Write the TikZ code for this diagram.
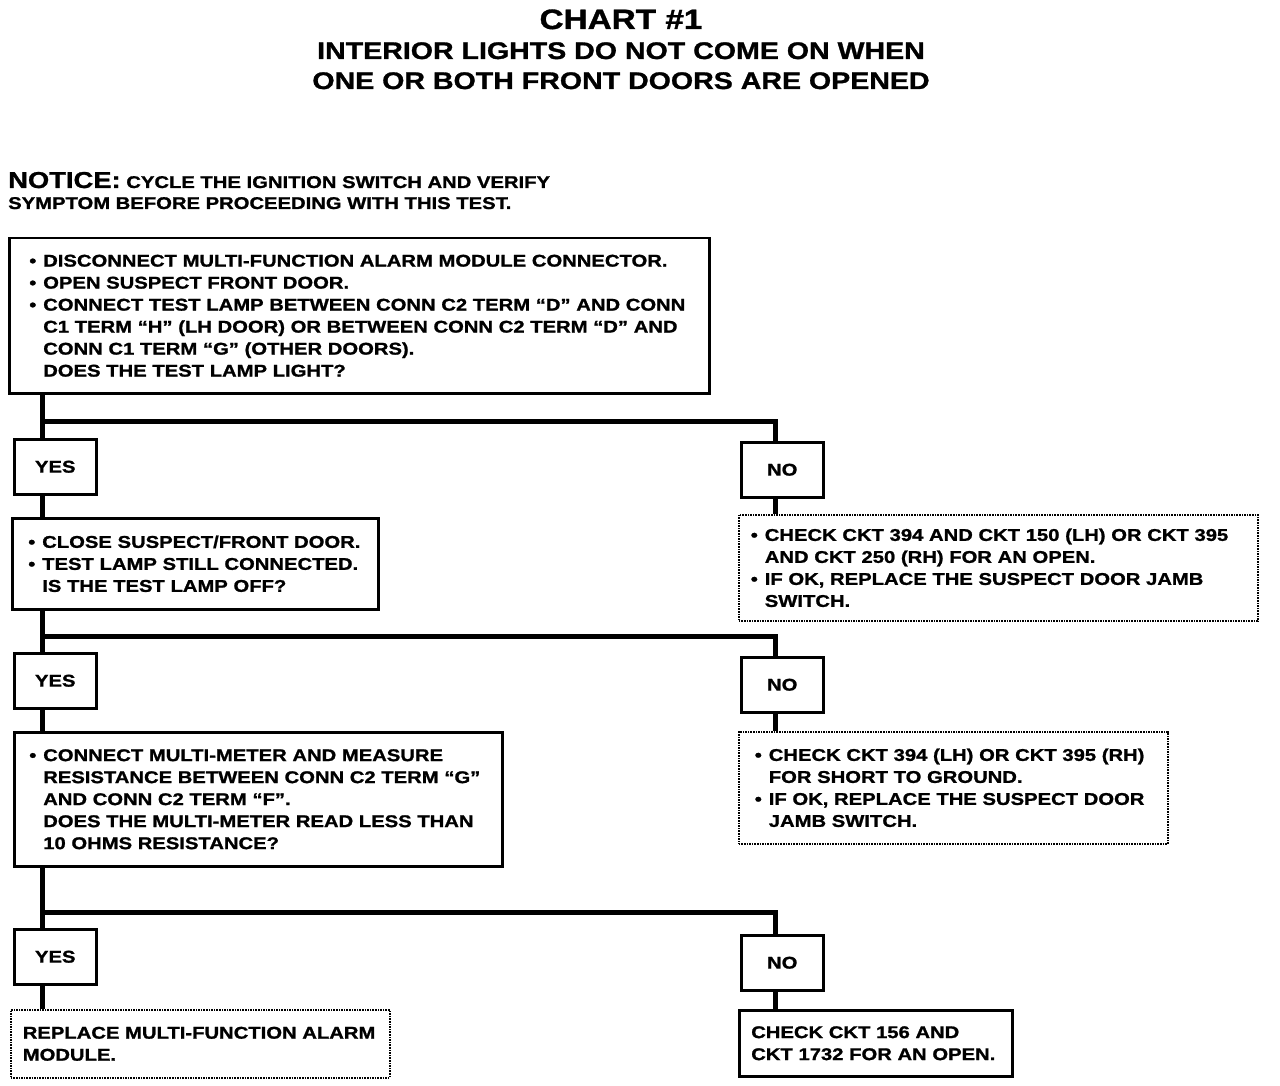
\documentclass[tikz,border=0pt]{standalone}
\usepackage{fontspec}
\setmainfont{Liberation Sans}[FakeStretch=1.19, BoldFeatures={FakeBold=1.2}]
\newcommand\bxfont{\fontsize{17}{22}\selectfont\bfseries}
\newcommand\bu{\makebox[14pt][l]{\textbullet}}
\newcommand\ind{\hspace*{14pt}}
\tikzset{
  box/.style={draw, line width=2.5pt, anchor=north west, inner ysep=0pt, align=left, font=\bxfont},
  dbox/.style={draw, line width=1.6pt, densely dotted, anchor=north west, inner ysep=0pt, align=left, font=\bxfont},
  yn/.style={draw, line width=2.5pt, anchor=north west, inner sep=0pt, minimum width=82pt, minimum height=55pt, font=\bxfont},
  conn/.style={line width=5pt},
}
\begin{document}
\begin{tikzpicture}[x=1pt,y=1pt]
\useasboundingbox (0,0) rectangle (1280,-1086);
% titles
\node[anchor=base, font=\fontsize{28}{28}\selectfont\bfseries] (t1) at (621,-29) {CHART \#1};
\node[anchor=base, font=\fontsize{24}{24}\selectfont\bfseries] (t2) at (621,-59) {INTERIOR LIGHTS DO NOT COME ON WHEN};
\node[anchor=base, font=\fontsize{24}{24}\selectfont\bfseries] (t3) at (621,-89) {ONE OR BOTH FRONT DOORS ARE OPENED};
\node[anchor=base west, inner sep=0pt, font=\fontsize{17}{17}\selectfont\bfseries] (n1) at (8,-188) {{\fontsize{23}{23}\selectfont NOTICE:} CYCLE THE IGNITION SWITCH AND VERIFY};
\node[anchor=base west, inner sep=0pt, font=\fontsize{17}{17}\selectfont\bfseries] (n2) at (8,-209) {SYMPTOM BEFORE PROCEEDING WITH THIS TEST.};
% boxes
\node[box, inner xsep=20pt, text width=660pt, minimum width=700pt, minimum height=155pt] (b1) at (8,-237)
 {\bu DISCONNECT MULTI-FUNCTION ALARM MODULE CONNECTOR.\\
  \bu OPEN SUSPECT FRONT DOOR.\\
  \bu CONNECT TEST LAMP BETWEEN CONN C2 TERM “D” AND CONN\\
  \ind C1 TERM “H” (LH DOOR) OR BETWEEN CONN C2 TERM “D” AND\\
  \ind CONN C1 TERM “G” (OTHER DOORS).\\
  \ind DOES THE TEST LAMP LIGHT?};
\node[yn] (y1) at (13,-438) {YES};
\node[yn] (no1) at (740,-441) {NO};
\node[box, inner xsep=16pt, text width=334pt, minimum width=366pt, minimum height=91pt] (b2) at (11,-517)
 {\bu CLOSE SUSPECT/FRONT DOOR.\\
  \bu TEST LAMP STILL CONNECTED.\\
  \ind IS THE TEST LAMP OFF?};
\node[dbox, inner xsep=12pt, text width=495pt, minimum width=519pt, minimum height=106pt] (d1) at (738,-514)
 {\bu CHECK CKT 394 AND CKT 150 (LH) OR CKT 395\\
  \ind AND CKT 250 (RH) FOR AN OPEN.\\
  \bu IF OK, REPLACE THE SUSPECT DOOR JAMB\\
  \ind SWITCH.};
\node[yn] (y2) at (13,-652) {YES};
\node[yn] (no2) at (740,-656) {NO};
\node[box, inner xsep=15pt, text width=458pt, minimum width=488pt, minimum height=134pt] (b3) at (13,-731)
 {\bu CONNECT MULTI-METER AND MEASURE\\
  \ind RESISTANCE BETWEEN CONN C2 TERM “G”\\
  \ind AND CONN C2 TERM “F”.\\
  \ind DOES THE MULTI-METER READ LESS THAN\\
  \ind 10 OHMS RESISTANCE?};
\node[dbox, inner xsep=16pt, text width=397pt, minimum width=429pt, minimum height=112pt] (d2) at (738,-731)
 {\bu CHECK CKT 394 (LH) OR CKT 395 (RH)\\
  \ind FOR SHORT TO GROUND.\\
  \bu IF OK, REPLACE THE SUSPECT DOOR\\
  \ind JAMB SWITCH.};
\node[yn] (y3) at (13,-928) {YES};
\node[yn] (no3) at (740,-934) {NO};
\node[dbox, inner xsep=12pt, text width=355pt, minimum width=379pt, minimum height=68pt] (d3) at (10,-1009)
 {REPLACE MULTI-FUNCTION ALARM\\ MODULE.};
\node[box, inner xsep=12pt, text width=249pt, minimum width=273pt, minimum height=66pt] (b4) at (738,-1009)
 {CHECK CKT 156 AND\\ CKT 1732 FOR AN OPEN.};
% junctions
\coordinate (j1) at (42,-421);  \coordinate (k1) at (775,-421);
\coordinate (j2) at (42,-636);  \coordinate (k2) at (775,-636);
\coordinate (j3) at (42,-912);  \coordinate (k3) at (775,-912);
% connectors
\draw[conn] (b1.south -| j1) -- (y1.north -| j1);
\draw[conn] (j1) -- (k1) -- (no1.north -| k1);
\draw[conn] (y1.south -| j1) -- (b2.north -| j1);
\draw[conn] (no1.south -| k1) -- (d1.north -| k1);
\draw[conn] (b2.south -| j2) -- (y2.north -| j2);
\draw[conn] (j2) -- (k2) -- (no2.north -| k2);
\draw[conn] (y2.south -| j2) -- (b3.north -| j2);
\draw[conn] (no2.south -| k2) -- (d2.north -| k2);
\draw[conn] (b3.south -| j3) -- (y3.north -| j3);
\draw[conn] (j3) -- (k3) -- (no3.north -| k3);
\draw[conn] (y3.south -| j3) -- (d3.north -| j3);
\draw[conn] (no3.south -| k3) -- (b4.north -| k3);
\end{tikzpicture}
\end{document}
